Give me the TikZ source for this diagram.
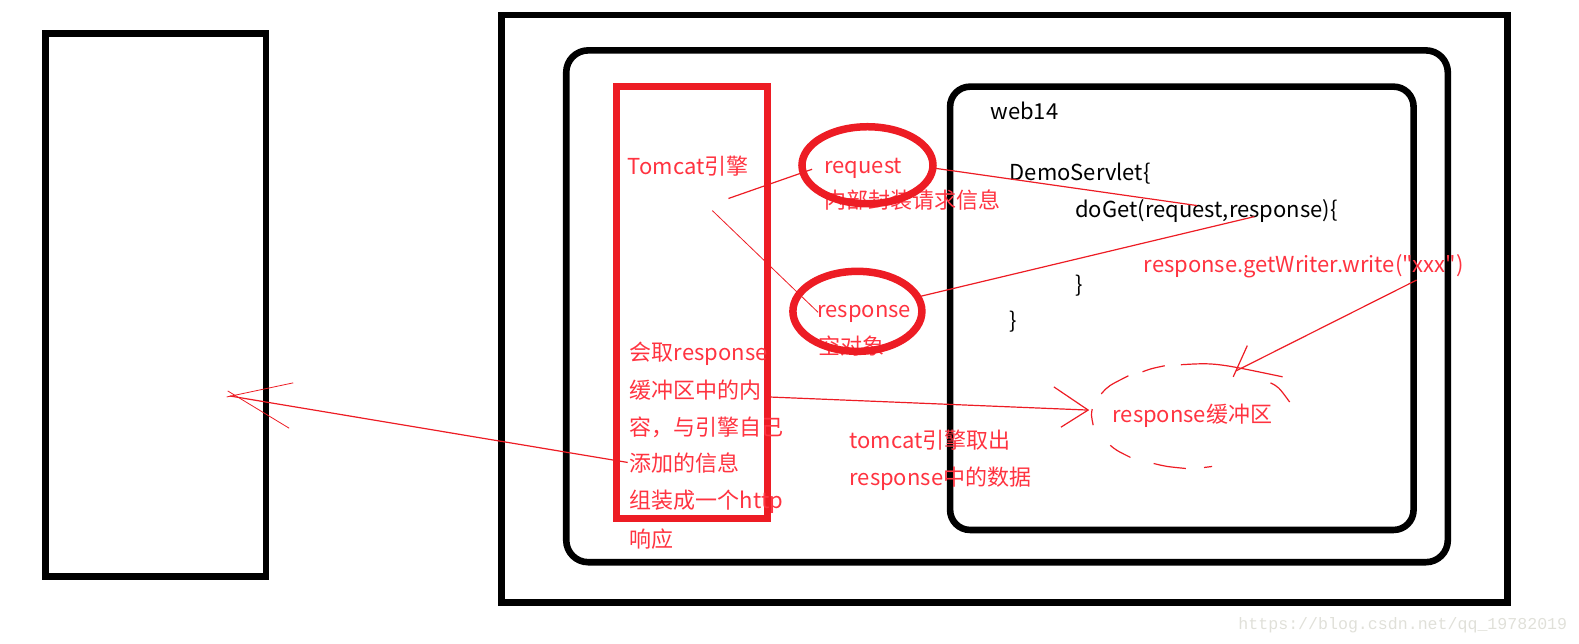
\documentclass[tikz,border=0pt]{standalone}
\usepackage{fontspec}
\setmainfont{Noto Sans CJK SC}
\newfontfamily\quotefont{Noto Sans CJK SC}
\newfontfamily\markfont{Liberation Mono}
\usetikzlibrary{shapes.geometric}
\definecolor{RedClr}{rgb}{0.93,0.11,0.14}
\definecolor{TextClr}{rgb}{1,0.2,0.25}
\definecolor{MarkClr}{rgb}{0.88,0.88,0.85}

\begin{document}
\begin{tikzpicture}[x=1.0075pt,y=-1.0075pt,
  BoxLine/.style={draw=black,line width=6.6pt},
  RedLine/.style={draw=RedClr,line width=1.2pt},
  RedOval/.style={draw=RedClr,line width=7.5pt,ellipse,inner sep=0pt},
  RedTxt/.style={anchor=base west,inner sep=0pt,text=TextClr,font=\fontsize{22}{26}\selectfont},
  BlackTxt/.style={anchor=base west,inner sep=0pt,text=black,font=\fontsize{22}{26}\selectfont}]
\useasboundingbox (0,0) rectangle (1567.2,638.2);

% boxes
\draw[BoxLine] (45,33) rectangle (264,572);
\draw[BoxLine] (498,15) rectangle (1496,598);
\draw[BoxLine,rounded corners=22pt] (562,50) rectangle (1437,558);
\draw[BoxLine,rounded corners=20pt] (943,86) rectangle (1403,526);
\draw[draw=RedClr,line width=7pt] (612,86) rectangle (762,515);

% texts
\node[RedTxt] (Tomcat) at (623,173) {Tomcat引擎};
\node[RedTxt] (Req) at (818,172) {request};
\node[RedTxt] (ReqInfo) at (818,207) {内部封装请求信息};
\node[RedTxt] (Resp) at (811,315) {response};
\node[RedTxt] (RespInfo) at (812,352) {空对象};
\node[RedTxt] (EngA) at (625,358) {会取response};
\node[RedTxt] (EngB) at (625,396) {缓冲区中的内};
\node[RedTxt] (EngC) at (625,432) {容，与引擎自己};
\node[RedTxt] (EngD) at (625,468) {添加的信息};
\node[RedTxt] (EngE) at (625,505) {组装成一个http};
\node[RedTxt] (EngF) at (625,543) {响应};
\node[BlackTxt] (Web) at (983,119) {web14};
\node[BlackTxt] (Servlet) at (1002,179) {DemoServlet\{};
\node[BlackTxt] (DoGet) at (1067,216) {doGet(request,response)\{};
\node[RedTxt] (Write) at (1135,270) {\quotefont response.getWriter.write("xxx")};
\node[BlackTxt] (CloseA) at (1067,290) {\}};
\node[BlackTxt] (CloseB) at (1002,326) {\}};
\node[RedTxt] (TakeA) at (843,445) {tomcat引擎取出};
\node[RedTxt] (TakeB) at (843,482) {response中的数据};
\node[RedTxt] (Buf) at (1104,419) {response缓冲区};
\node[anchor=base west,inner sep=0pt,text=MarkClr,font=\markfont\fontsize{16.6}{20}\selectfont] (Mark) at (1229,625) {https://blog.csdn.net/qq\_19782019};

% ovals
\node[RedOval,minimum width=131pt,minimum height=77pt] (ReqOval) at (861,164) {};
\node[RedOval,minimum width=129pt,minimum height=80pt] (RespOval) at (851,309) {};

% free ends of the hand drawn lines
\coordinate (A1) at (723,197);
\coordinate (A2) at (806,168);
\coordinate (B1) at (707,209);
\coordinate (B2) at (812,310);
\coordinate (C1) at (928,167);
\coordinate (C2) at (1188,204);
\coordinate (D1) at (914,294);
\coordinate (D2) at (1245,215);
\coordinate (E1) at (1406,278);
\coordinate (E2) at (1227,368);
\coordinate (E3) at (1238,343);
\coordinate (E4) at (1224,374);
\coordinate (F1) at (763,394);
\coordinate (F2) at (1080,407);
\coordinate (F3) at (1046,384);
\coordinate (F4) at (1053,424);
\coordinate (G1) at (623,459);
\coordinate (G2) at (228,393);
\coordinate (G3) at (291,380);
\coordinate (G4) at (287,425);
\coordinate (G5) at (225,394);
\coordinate (G6) at (226,388);

\draw[RedLine] (A1) -- (A2);
\draw[RedLine,line width=0.8pt] (B1) -- (B2);
\draw[RedLine] (C1) -- (C2);
\draw[RedLine] (D1) -- (D2);
\draw[RedLine] (E1) -- (E2);
\draw[RedLine] (E3) -- (E4);
\draw[RedLine] (F1) -- (F2);
\draw[RedLine] (F3) -- (F2) -- (F4);
\draw[RedLine] (G1) -- (G2);
\draw[RedLine,line width=0.8pt] (G3) -- (G5);
\draw[RedLine,line width=0.8pt] (G4) -- (G6);

% broken oval of the buffer
\draw[RedLine] (1093,391) .. controls (1100,383) .. (1120,373);
\draw[RedLine] (1134,369) .. controls (1142,366) .. (1156,363);
\draw[RedLine] (1172,362) .. controls (1206,360) .. (1273,374);
\draw[RedLine] (1261,380) .. controls (1269,384) .. (1280,399);
\draw[RedLine] (1084,406) .. controls (1083,412) .. (1085,422);
\draw[RedLine] (1102,442) .. controls (1108,447) .. (1122,454);
\draw[RedLine] (1145,460) .. controls (1157,463) .. (1177,465);
\draw[RedLine] (1195,464) -- (1203,463);

\end{tikzpicture}
\end{document}
